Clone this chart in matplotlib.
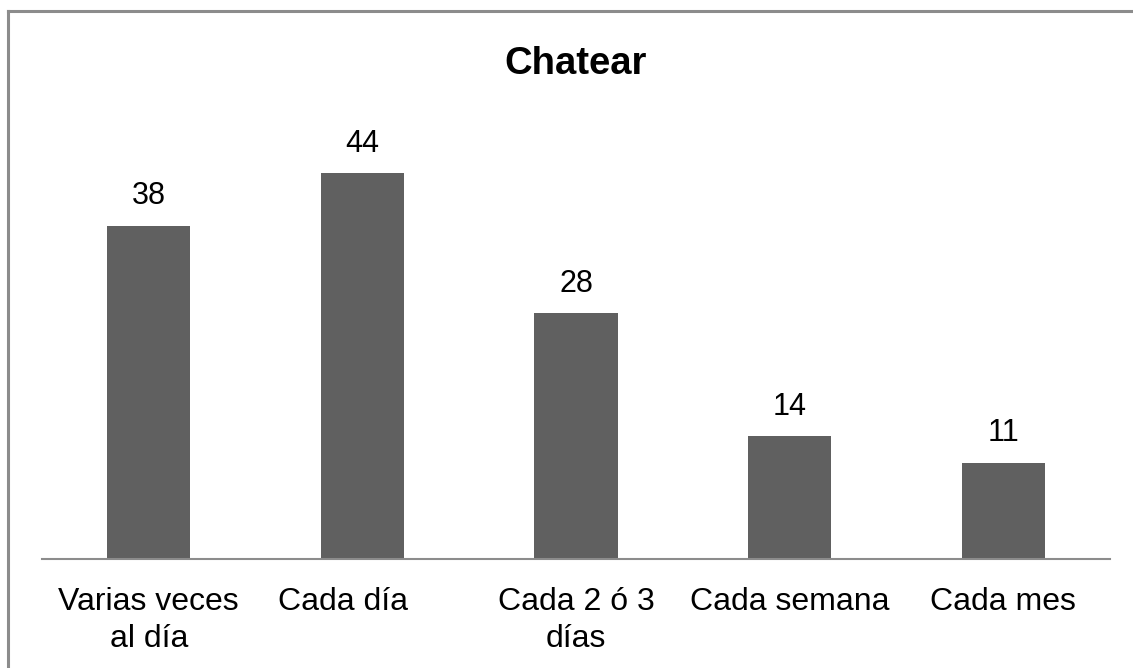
import numpy as np
import matplotlib.pyplot as plt
from matplotlib.lines import Line2D
from matplotlib.transforms import ScaledTranslation

categories = ['Varias veces\nal día', 'Cada día', 'Cada 2 ó 3\ndías', 'Cada semana', 'Cada mes']
values = [38, 44, 28, 14, 11]

plt.rcParams['font.family'] = ['Liberation Sans', 'DejaVu Sans']

fig = plt.figure(figsize=(11.33, 6.68), dpi=100)
ax = fig.add_axes([42 / 1133, 1 - 559 / 668, (1110 - 42) / 1133, (559 - 120.5) / 668])

x = np.arange(len(categories))
bars = ax.bar(x, values, width=0.39, color='#606060')
for b, v in zip(bars, values):
    ax.annotate(str(v), (b.get_x() + b.get_width() / 2, v), xytext=(0, 10.5),
                textcoords='offset points', ha='center', va='bottom',
                fontsize=22, color='black')

ax.set_xlim(-0.5, len(categories) - 0.5)
ax.set_ylim(0, 50)
ax.set_xticks(x)
ax.set_xticklabels(categories, fontsize=23, linespacing=1.3)
ax.tick_params(axis='x', length=0, pad=20)
ax.set_yticks([])
for s in ['top', 'right', 'left']:
    ax.spines[s].set_visible(False)
ax.spines['bottom'].set_color('#8c8c8c')
ax.spines['bottom'].set_linewidth(1.5)

# "Cada día" sits a little left of its slot in the original
lbl = ax.get_xticklabels()[1]
lbl.set_transform(lbl.get_transform() + ScaledTranslation(-19 / 100, 0, fig.dpi_scale_trans))

fig.text(576 / 1133, 1 - 73.5 / 668, 'Chatear', ha='center', va='baseline',
         fontsize=27.5, fontweight='bold')

# outer frame (only top and left edges visible)
fig.add_artist(Line2D([7.5 / 1133, 1], [1 - 10.5 / 668] * 2, color='#8c8c8c', lw=2.2))
fig.add_artist(Line2D([7.5 / 1133] * 2, [0, 1 - 10.5 / 668], color='#8c8c8c', lw=2.2))

fig.savefig('out.png', dpi=100)
